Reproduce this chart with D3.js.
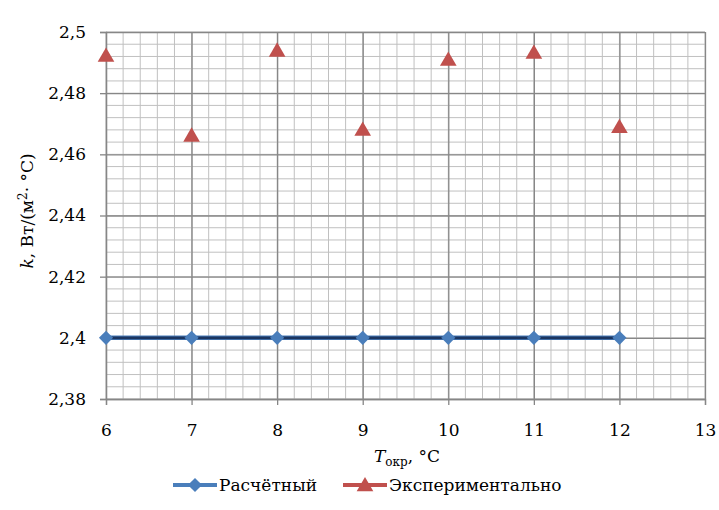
<!DOCTYPE html>
<html>
<head>
<meta charset="utf-8">
<script src="https://cdn.jsdelivr.net/npm/d3@7"></script>
<style>
  body { margin: 0; background: #fff; }
  svg text { font-family: "DejaVu Serif", serif; fill: #000; }
</style>
</head>
<body>
<svg width="719" height="510"></svg>
<script>
  // data
  let temps = [6, 7, 8, 9, 10, 11, 12];
  let calcK = [2.4, 2.4, 2.4, 2.4, 2.4, 2.4, 2.4];
  let expK = [2.4923, 2.4662, 2.494, 2.4681, 2.491, 2.4933, 2.469];
  let xTicks = [6, 7, 8, 9, 10, 11, 12, 13];
  let yTicks = [2.38, 2.4, 2.42, 2.44, 2.46, 2.48, 2.5];
  let seriesNames = ["Расчётный", "Экспериментально"];

  let serif = '"DejaVu Serif", serif';
  let fs = "17px";

  let svg = d3.select("svg");
  let margin = { top: 32, right: 14, bottom: 111, left: 106 };
  let width = +svg.attr("width") - margin.left - margin.right;
  let height = +svg.attr("height") - margin.top - margin.bottom;

  let g = svg.append("g")
    .attr("transform", "translate(" + margin.left + "," + margin.top + ")");

  let x = d3.scaleLinear().domain([6, 13]).range([0, width]);
  let y = d3.scaleLinear().domain([2.38, 2.5]).range([height, 0]);

  // minor grid
  let minorX = d3.range(6, 13.001, 0.2);
  let minorY = d3.range(2.38, 2.5001, 0.004);
  g.selectAll(".mx").data(minorX).enter().append("line")
    .attr("x1", d => x(d)).attr("x2", d => x(d))
    .attr("y1", 0).attr("y2", height)
    .attr("stroke", "#c0c0c0").attr("stroke-width", 1);
  g.selectAll(".my").data(minorY).enter().append("line")
    .attr("x1", 0).attr("x2", width)
    .attr("y1", d => y(d)).attr("y2", d => y(d))
    .attr("stroke", "#c0c0c0").attr("stroke-width", 1);

  // major grid
  g.append("g")
    .call(d3.axisBottom(x).tickValues(xTicks).tickSize(-height).tickFormat(""))
    .attr("transform", "translate(0," + height + ")")
    .call(a => a.select(".domain").remove())
    .selectAll("line").attr("stroke", "#878787").attr("stroke-width", 1.3);
  g.append("g")
    .call(d3.axisLeft(y).tickValues(yTicks).tickSize(-width).tickFormat(""))
    .call(a => a.select(".domain").remove())
    .selectAll("line").attr("stroke", "#878787").attr("stroke-width", 1.3);

  let fmt = d => String(+d.toFixed(2)).replace(".", ",");

  // axes
  let xAxis = g.append("g")
    .attr("transform", "translate(0," + height + ")")
    .call(d3.axisBottom(x).tickValues(xTicks).tickSize(6).tickPadding(19).tickFormat(d => d));
  let yAxis = g.append("g")
    .call(d3.axisLeft(y).tickValues(yTicks).tickSize(6).tickPadding(14).tickFormat(fmt));
  [xAxis, yAxis].forEach(a => {
    a.attr("font-family", null).attr("font-size", null);
    a.select(".domain").attr("stroke", "#868686").attr("stroke-width", 1.3);
    a.selectAll(".tick line").attr("stroke", "#868686").attr("stroke-width", 1.3);
    a.selectAll("text").style("font-size", fs)
      .style("font-family", serif).attr("fill", "#000");
  });

  // calculated line
  let line = d3.line().x((d, i) => x(temps[i])).y(d => y(d));
  g.append("path").datum(calcK).attr("d", line)
    .attr("fill", "none").attr("stroke", "#4a7ebb").attr("stroke-width", 4.5);
  g.append("path").datum(calcK).attr("d", line)
    .attr("fill", "none").attr("stroke", "#1b3560").attr("stroke-width", 2.6);

  let diamond = d3.symbol().type(d3.symbolSquare).size(100);
  g.selectAll(".dia").data(calcK).enter().append("path")
    .attr("d", diamond)
    .attr("transform", (d, i) => "translate(" + x(temps[i]) + "," + y(d) + ") rotate(45)")
    .attr("fill", "#4a7ebb");

  let tri = d3.symbol().type(d3.symbolTriangle).size(120);
  g.selectAll(".tri").data(expK).enter().append("path")
    .attr("d", tri)
    .attr("transform", (d, i) => "translate(" + x(temps[i]) + "," + (y(d) + 1.5) + ")")
    .attr("fill", "#c0504d");

  // axis titles
  let xt = svg.append("text")
    .attr("x", 407).attr("y", 462)
    .attr("text-anchor", "middle")
    .style("font-size", fs);
  xt.append("tspan").style("font-style", "italic").text("T");
  xt.append("tspan").attr("dy", 4).style("font-size", "12px").text("окр");
  xt.append("tspan").attr("dy", -4).text(", °C");

  let yt = svg.append("text")
    .attr("transform", "translate(33,211) rotate(-90)")
    .attr("text-anchor", "middle")
    .style("font-size", fs);
  yt.append("tspan").style("font-style", "italic").text("k");
  yt.append("tspan").text(", Вт/(м");
  yt.append("tspan").attr("dy", -6).style("font-size", "12px").text("2");
  yt.append("tspan").attr("dy", 6).text("· °C)");

  // legend
  let legend = svg.append("g").attr("transform", "translate(0,485)");
  legend.append("line").attr("x1", 173).attr("x2", 217).attr("y1", 0).attr("y2", 0)
    .attr("stroke", "#4a7ebb").attr("stroke-width", 4);
  legend.append("path").attr("d", diamond)
    .attr("transform", "translate(195,0) rotate(45)").attr("fill", "#4a7ebb");
  legend.append("text").attr("x", 219).attr("y", 6).style("font-size", fs).text(seriesNames[0]);

  legend.append("line").attr("x1", 343).attr("x2", 387).attr("y1", 0).attr("y2", 0)
    .attr("stroke", "#c0504d").attr("stroke-width", 4);
  legend.append("path").attr("d", tri)
    .attr("transform", "translate(365,1.5)").attr("fill", "#c0504d");
  legend.append("text").attr("x", 389).attr("y", 6).style("font-size", fs).text(seriesNames[1]);
</script>
</body>
</html>
